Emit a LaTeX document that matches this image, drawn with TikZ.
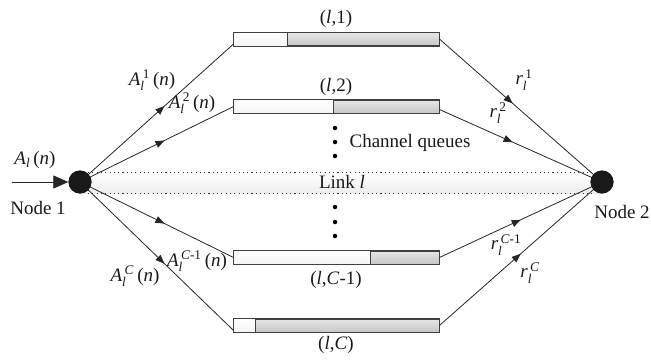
\documentclass[tikz,border=0pt]{standalone}
\usepackage{amsmath}
\usepackage{fontspec}
\setmainfont{Liberation Serif}
\usetikzlibrary{arrows.meta,decorations.markings,calc}
\newcommand{\Al}[1]{$\textit{A}_{\textit{l}}^{\,\textrm{#1}}$\,(\textit{n})}
\newcommand{\rl}[1]{$\textit{r}_{\textit{l}}^{\,\textrm{#1}}$}
\begin{document}
\begin{tikzpicture}[x=1pt,y=-1pt,
  every node/.style={font=\fontsize{19}{21}\selectfont, text=black!90},
  endpt/.style={circle,fill=black!90,draw=none,minimum size=23pt,inner sep=0pt},
  bar/.style={draw=black!75,line width=0.9pt,minimum width=205pt,minimum height=13pt,inner sep=0pt,
    top color=black!10,bottom color=black!22},
  conn/.style={draw=black!85,line width=0.8pt},
  midarrow/.style={postaction={decorate},decoration={markings,
    mark=at position #1 with {\arrow{Triangle[length=9pt,width=7pt]}}}},
  dotline/.style={draw=black!80,line width=1pt,dash pattern=on 1.1pt off 3.2pt},
  vdot/.style={circle,fill=black,inner sep=0pt,minimum size=4.5pt},
  lbl/.style={inner sep=0pt}
]
\useasboundingbox (0,0) rectangle (651,360);
% link band
\shade[top color=white,bottom color=black!7] (80,172) rectangle (602,193);
\node[endpt] (n1) at (80,182) {};
\node[endpt] (n2) at (602,182) {};
\coordinate (d1a) at (88,172); \coordinate (d1b) at (594,172);
\coordinate (d2a) at (88,193); \coordinate (d2b) at (594,193);
\draw[dotline] (d1a) -- (d1b);
\draw[dotline] (d2a) -- (d2b);
% bars
\node[bar] (bar1) at (336.5,39) {};
\node[bar] (bar2) at (336.5,106.5) {};
\node[bar] (bar3) at (336.5,257.5) {};
\node[bar] (bar4) at (336.5,325.5) {};
\fill[top color=white,bottom color=black!4,draw=black!75,line width=0.9pt] (bar1.north west) rectangle ($(bar1.south west)+(54,0)$);
\fill[top color=white,bottom color=black!4,draw=black!75,line width=0.9pt] (bar2.north west) rectangle ($(bar2.south west)+(100,0)$);
\fill[top color=white,bottom color=black!4,draw=black!75,line width=0.9pt] (bar3.north west) rectangle ($(bar3.south west)+(137,0)$);
\fill[top color=white,bottom color=black!4,draw=black!75,line width=0.9pt] (bar4.north west) rectangle ($(bar4.south west)+(22,0)$);
\draw[draw=black!75,line width=0.9pt] (bar1.north west) rectangle (bar1.south east);
\draw[draw=black!75,line width=0.9pt] (bar2.north west) rectangle (bar2.south east);
\draw[draw=black!75,line width=0.9pt] (bar3.north west) rectangle (bar3.south east);
\draw[draw=black!75,line width=0.9pt] (bar4.north west) rectangle (bar4.south east);
% input arrow
\coordinate (in) at (12,182);
\draw[conn,-{Triangle[length=15pt,width=13pt]}] (in) -- (n1.west);
% connectors from node 1
\draw[conn,midarrow=0.55] (n1.center) -- ($(bar1.south west)+(0,-2)$);
\draw[conn,midarrow=0.55] (n1.center) -- (bar2.west);
\draw[conn,midarrow=0.55] (n1.center) -- (bar3.west);
\draw[conn,midarrow=0.55] (n1.center) -- ($(bar4.south west)+(0,-2)$);
% connectors to node 2
\draw[conn,midarrow=0.45] (bar1.east) -- (n2.center);
\draw[conn,midarrow=0.45] ($(bar2.east)+(0,3)$) -- (n2.center);
\draw[conn,midarrow=0.5] (bar3.east) -- (n2.center);
\draw[conn,midarrow=0.5] (bar4.east) -- (n2.center);
\node[endpt] at (n1) {};
\node[endpt] at (n2) {};
% labels
\node[lbl] (q1) at (336,19) {(\textit{l},1)};
\node[lbl] (q2) at (336,87) {(\textit{l},2)};
\node[lbl] (q3) at (336,280) {(\textit{l},\textit{C}-1)};
\node[lbl] (q4) at (336,345) {(\textit{l},\textit{C})};
\node[lbl] (ain) at (35,160) {$\textit{A}_{\textit{l}}$\,(\textit{n})};
\node[lbl] (nd1) at (38,208) {Node 1};
\node[lbl] (nd2) at (622,212) {Node 2};
\node[lbl] (a1) at (152,80) {\Al{1}};
\node[lbl] (a2) at (192,103) {\Al{2}};
\node[lbl] (a3) at (197,261) {\Al{\textit{C}-1}};
\node[lbl] (a4) at (135,276) {\Al{\textit{C}}};
\node[lbl] (r1) at (524,80) {\rl{1}};
\node[lbl] (r2) at (498,113) {\rl{2}};
\node[lbl] (r3) at (506,245) {\rl{\textit{C}-1}};
\node[lbl] (r4) at (530,273) {\rl{\textit{C}}};
\node[lbl] (cq) at (410,143) {Channel queues};
\node[lbl] (lk) at (342,182) {Link \textit{l}};
\foreach \y [count=\i] in {128,142,156,207,222,236} \node[vdot] (v\i) at (335,\y) {};
\end{tikzpicture}
\end{document}
